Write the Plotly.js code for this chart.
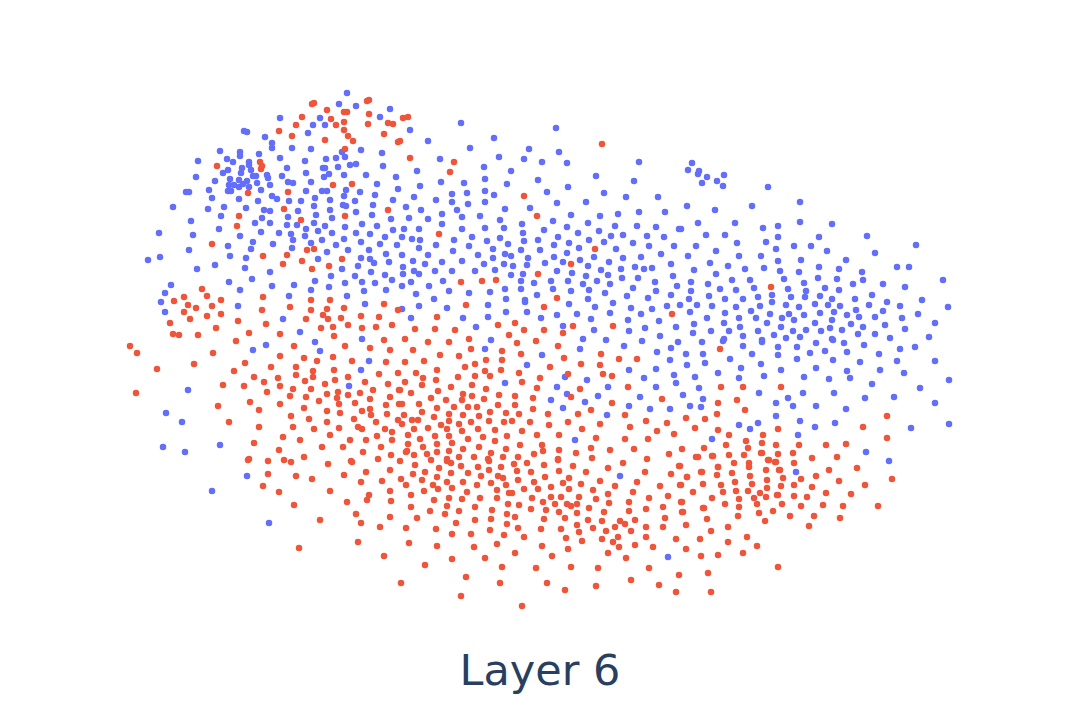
<!DOCTYPE html>
<html>
<head>
<meta charset="utf-8">
<script src="https://cdn.plot.ly/plotly-3.0.1.min.js"></script>
<style>html,body{margin:0;padding:0;background:#fff}</style>
</head>
<body>
<div id="myDiv" style="width:1080px;height:720px"></div>
<script>
var titleText = "Layer 6";
var seriesColors = ["#636EFA", "#EF553B"];

//embedding positions, upper left part first
var bluePoints = [
[347,93],[339,104],[356,106],[390,109],[380,117],[320,118],[313,125],[325,125],[280,118],[244,131],[247,132],[308,133],[265,137],[272,143],[272,148],[292,148],[311,149],[220,151],[240,152],[240,156],[259,154],[342,152],[361,150],[382,153],[280,158],[326,159],[336,158],[345,157],[305,161],[227,159],[233,162],[198,161],[249,162],[249,165],[350,165],[356,164],[383,166],[338,167],[287,168],[242,168],[323,168],[325,168],[228,170],[223,173],[241,173],[251,170],[306,173],[344,175],[366,175],[267,175],[329,174],[324,177],[253,176],[256,176],[282,176],[196,177],[215,181],[230,179],[268,178],[396,177],[239,180],[247,181],[288,182],[293,183],[311,182],[257,183],[270,185],[229,185],[234,185],[239,187],[243,184],[249,187],[377,184],[209,190],[186,192],[189,192],[261,190],[228,191],[231,191],[306,191],[322,191],[327,191],[346,190],[360,192],[398,189],[344,196],[375,195],[212,198],[239,199],[272,196],[277,199],[315,198],[330,200],[289,201],[301,201],[258,201],[355,201],[393,200],[173,207],[343,205],[346,206],[373,205],[314,206],[208,209],[224,207],[246,208],[264,210],[270,211],[298,211],[330,210],[356,212],[221,216],[316,215],[372,215],[288,217],[262,218],[332,218],[191,221],[255,223],[270,223],[391,219],[325,226],[314,223],[287,225],[297,225],[362,224],[345,227],[377,226],[219,229],[306,229],[393,230],[159,233],[193,235],[240,236],[261,232],[279,233],[291,234],[318,231],[332,233],[356,233],[370,234],[305,236],[385,237],[293,240],[322,240],[344,239],[361,242],[253,242],[273,244],[311,243],[228,246],[380,244],[336,245],[397,245],[189,250],[251,249],[292,248],[348,250],[369,250],[327,252],[386,254],[148,260],[160,257],[230,256],[246,258],[318,259],[361,258],[370,259],[215,265],[374,263],[389,262],[197,269],[245,268],[342,269],[358,266],
[410,130],[461,123],[556,128],[428,141],[494,138],[470,148],[529,149],[559,152],[440,159],[499,157],[524,159],[542,162],[567,163],[639,162],[417,171],[484,167],[511,171],[596,176],[441,182],[485,179],[464,183],[538,180],[634,181],[507,184],[420,186],[568,187],[485,191],[547,192],[604,193],[452,194],[467,193],[494,195],[414,197],[436,200],[626,197],[658,197],[452,202],[485,202],[557,203],[586,202],[468,204],[406,207],[530,208],[421,210],[505,209],[457,210],[442,214],[639,212],[665,212],[618,214],[571,215],[600,216],[480,216],[409,218],[428,219],[462,217],[500,220],[553,221],[442,224],[522,224],[588,223],[615,226],[637,226],[656,227],[404,229],[419,229],[485,228],[504,228],[567,227],[462,229],[544,230],[679,229],[599,231],[578,233],[523,233],[623,235],[611,236],[647,236],[402,237],[412,239],[420,240],[472,237],[454,240],[500,238],[558,237],[664,237],[487,241],[524,241],[538,240],[589,240],[604,242],[569,243],[633,243],[508,244],[436,245],[554,245],[469,246],[649,246],[674,246],[419,248],[493,249],[521,250],[540,250],[579,248],[616,249],[453,251],[402,255],[428,255],[478,255],[505,254],[511,256],[567,253],[661,254],[554,257],[594,257],[623,258],[641,257],[493,258],[528,258],[580,260],[413,261],[442,262],[462,261],[563,262],[545,263],[609,262],[425,264],[484,264],[504,264],[513,266],[527,265],[671,264],[403,267],[635,267],[588,266],[652,268],[644,269],[621,269],[495,270],[452,271],[435,271],[414,271],[419,274],[475,271],[557,271],[601,270],[572,273],[403,274],[511,275],[523,274],[608,275],[586,276],[673,276],[622,278],[638,278],[411,282],[443,281],[521,281],[551,281],[568,281],[597,281],[534,283],[655,282],[610,284],[429,286],[583,284],[677,286],[402,286],[505,289],[521,289],[553,289],[633,288],[589,290],[449,291],[469,293],[490,292],[571,291],[656,291],[416,294],[537,295],[605,293],[671,295],[627,296],[648,298],[434,299],[506,299],[525,300],[588,299],
[692,163],[688,170],[699,171],[698,174],[707,177],[724,175],[717,181],[702,183],[723,186],[768,187],[687,206],[715,210],[752,206],[800,202],[698,223],[735,223],[800,222],[832,224],[681,229],[763,228],[778,226],[706,235],[725,235],[778,237],[819,237],[867,236],[737,243],[766,242],[794,246],[811,246],[696,246],[916,245],[776,249],[827,251],[875,253],[716,251],[688,256],[739,256],[761,256],[846,260],[778,261],[801,260],[710,263],[728,266],[819,267],[839,269],[897,267],[909,267],[764,268],[745,269],[862,272],[694,270],[780,271],[799,272],[716,274],[943,280],[837,279],[818,278],[784,279],[732,280],[750,280],[863,280],[804,283],[691,282],[708,284],[853,284],[883,284],[720,289],[754,288],[825,288],[905,287],[788,289],[736,290],[691,291],[806,291],[839,290],[772,295],[872,295],[689,299],[709,296],[725,299],[743,299],[758,297],[791,297],[805,297],[820,296],[855,299],[832,299],[922,300],[772,302],[887,302],[680,305],[697,305],[712,306],[736,307],[760,306],[786,305],[799,307],[815,304],[828,305],[840,306],[869,305],[900,306],[948,307],[856,310],[883,311],[690,312],[725,313],[751,311],[770,314],[789,314],[804,315],[820,313],[834,312],[847,315],[859,317],[875,317],[918,314],[707,318],[739,318],[756,318],[782,318],[794,320],[832,320],[902,318],[724,323],[694,324],[767,323],[815,323],[851,324],[885,325],[935,323],[740,327],[781,327],[830,328],[863,327],[905,329],[693,333],[711,331],[729,331],[758,331],[793,331],[806,330],[821,331],[842,330],[858,334],[875,334],[743,336],[774,335],[800,337],[832,339],[890,338],[929,337],[786,338],[724,339],[762,340],
[171,285],[165,293],[161,302],[165,312],[229,282],[252,279],[270,272],[240,290],[272,286],[294,285],[315,281],[331,276],[355,276],[371,272],[385,275],[392,280],[329,287],[311,290],[345,283],[362,282],[375,283],[364,291],[386,290],[289,296],[347,296],[238,306],[365,304],[283,319],[300,332],[362,339],[315,342],[320,351],[266,345],[253,350],[369,361],[361,370],[349,386],[188,390],[166,413],[182,422],[163,447],[185,452],[220,445],
[402,309],[419,306],[447,308],[411,318],[463,318],[488,305],[525,302],[506,312],[488,317],[527,312],[541,318],[557,315],[569,304],[595,307],[613,303],[631,308],[577,314],[591,319],[610,313],[641,314],[652,309],[667,306],[628,320],[659,321],[476,327],[563,326],[594,330],[629,331],[645,328],[676,327],[660,336],[583,339],[606,340],[642,341],[491,340],[624,346],[678,342],[671,348],[580,349],[657,352],[485,349],[542,355],[670,360],[527,365],[629,370],[656,369],[674,375],[644,378],[676,383],[565,377],[587,380],[505,383],[557,387],[608,387],[656,387],[567,394],[598,396],[551,400],[640,397],[585,402],[629,406],[650,409],[670,409],[563,408],[607,415],[575,440],
[702,342],[723,341],[743,346],[762,342],[778,347],[797,347],[816,343],[833,340],[844,343],[864,345],[686,354],[703,354],[752,354],[778,355],[810,353],[825,351],[847,352],[879,354],[900,349],[915,347],[730,359],[797,359],[833,360],[860,362],[897,361],[935,361],[687,365],[705,363],[761,364],[741,368],[781,370],[816,368],[847,371],[880,370],[718,373],[695,377],[739,378],[764,376],[804,377],[829,379],[850,378],[904,373],[949,380],[872,384],[699,388],[920,388],[683,395],[759,393],[803,393],[834,393],[788,398],[865,398],[894,397],[703,399],[776,403],[935,403],[690,406],[701,407],[793,406],[816,406],[846,409],[776,416],[800,421],[835,423],[949,424],[739,425],[758,423],[815,427],[911,428],[750,429],[798,435],[712,439],[866,452],[889,461],[796,472],
[247,476],[269,523],[620,476],[668,557],[212,491]
];
var redPoints = [
[312,104],[314,103],[367,101],[369,100],[327,110],[344,112],[347,112],[302,117],[369,114],[331,119],[296,125],[336,125],[344,122],[368,124],[388,123],[393,124],[344,130],[279,131],[292,136],[384,134],[348,136],[353,141],[325,140],[398,142],[345,149],[260,162],[262,166],[261,169],[217,166],[333,185],[352,184],[248,193],[288,192],[284,209],[388,210],[239,216],[345,216],[301,220],[237,226],[212,244],[263,256],[287,255],[307,250],[314,249],[342,259],[302,261],[283,264],[329,266],[312,269],
[403,118],[408,117],[400,141],[410,158],[454,162],[450,172],[524,196],[537,216],[439,234],[595,249],[571,264],[538,274],[461,282],[482,281],[496,280],[602,144],[557,298],[771,287],
[202,289],[207,296],[184,297],[174,301],[221,300],[188,305],[196,308],[212,306],[184,312],[221,314],[207,316],[190,319],[170,323],[238,321],[173,334],[179,335],[198,335],[216,328],[249,333],[280,334],[236,341],[130,346],[137,353],[213,353],[294,346],[280,356],[263,297],[262,310],[266,324],[290,307],[311,300],[330,300],[311,310],[327,309],[344,308],[384,304],[306,319],[323,315],[328,319],[341,318],[361,316],[379,317],[398,310],[321,328],[333,327],[348,325],[362,328],[376,327],[392,325],[334,336],[384,340],[345,346],[370,348],[390,350],[304,358],[317,361],[333,357],[352,361],[386,362],[245,363],[271,367],[296,367],[313,371],[334,370],[194,364],[157,369],[234,371],[296,375],[313,377],[348,377],[379,374],[398,373],[254,377],[278,378],[305,381],[335,380],[365,382],[264,382],[223,385],[244,386],[280,386],[325,384],[388,384],[293,389],[311,389],[338,392],[373,390],[399,390],[136,393],[267,392],[327,394],[348,395],[360,393],[390,397],[290,396],[306,397],[337,398],[370,399],[319,401],[250,402],[355,403],[339,404],[280,404],[218,406],[386,405],[304,408],[370,409],[259,410],[327,411],[340,413],[362,411],[399,404],[371,415],[387,414],[291,416],[309,419],[354,419],[398,420],[229,422],[327,422],[376,422],[293,427],[259,427],[314,429],[339,428],[358,427],[362,429],[392,432],[385,429],[330,435],[377,436],[283,437],[300,440],[350,440],[366,440],[392,440],[254,443],[322,447],[343,447],[381,447],[279,450],[363,452],[391,455],[304,457],[249,459],[268,461],[284,460],[378,459],[351,461],
[466,305],[544,307],[437,317],[515,323],[498,325],[573,326],[613,326],[672,314],[415,329],[435,329],[455,330],[524,330],[544,330],[563,333],[509,335],[405,339],[469,339],[428,342],[449,342],[517,343],[536,341],[558,346],[413,350],[471,349],[502,351],[521,354],[601,354],[440,355],[459,356],[564,358],[619,359],[637,359],[486,360],[502,360],[424,361],[405,362],[475,364],[581,364],[600,365],[465,367],[550,367],[437,370],[485,371],[501,370],[416,373],[519,373],[568,374],[603,374],[612,376],[490,376],[475,376],[458,377],[423,378],[540,378],[405,382],[436,380],[522,382],[422,385],[472,385],[451,387],[537,388],[486,389],[580,389],[628,387],[400,390],[438,391],[411,393],[463,394],[499,395],[472,396],[515,396],[571,397],[431,398],[533,398],[462,400],[484,399],[446,400],[662,399],[612,403],[402,404],[419,404],[498,405],[515,405],[437,408],[454,407],[468,407],[477,407],[533,409],[591,410],[490,412],[506,413],[422,412],[548,414],[578,414],[625,415],[404,415],[449,414],[463,415],[479,416],[519,414],[434,417],[412,420],[418,420],[449,421],[471,422],[489,421],[504,422],[512,421],[530,422],[568,422],[646,421],[600,424],[667,423],[402,424],[441,425],[459,424],[549,425],[414,429],[428,428],[447,429],[478,429],[495,430],[462,431],[522,431],[582,429],[630,427],[657,431],[537,435],[559,435],[408,435],[435,436],[449,436],[483,437],[507,436],[596,438],[420,439],[468,439],[625,439],[648,439],[674,434],[495,441],[452,443],[437,444],[408,444],[520,445],[542,445],[591,448],[423,447],[479,447],[463,449],[407,451],[506,449],[559,450],[610,450],[634,449],[449,451],[437,452],[543,451],[491,453],[534,454],[576,453],[669,454],[427,454],[414,455],[518,457],[503,457],[474,457],[459,457],[592,458],[647,459],[558,459],[431,460],[447,459],[488,459],
[720,349],[721,387],[743,387],[781,387],[718,403],[737,400],[745,410],[717,414],[686,418],[705,419],[887,416],[695,428],[718,430],[863,427],[778,429],[729,435],[763,435],[887,438],[746,441],[726,445],[762,443],[776,445],[799,445],[826,445],[846,444],[682,449],[704,448],[748,448],[762,453],[793,453],[778,454],[696,457],[712,456],[729,455],[744,455],[812,458],[837,457],[768,460],[775,462],[794,463],[749,463],[734,463],[749,467],[718,467],[680,466],[857,468],[766,470],[780,470],[829,470],[702,472],[732,473],[816,476],[717,475],[750,476],[801,479],[783,478],[687,477],[839,481],[892,479],[767,480],[735,482],[865,485],[752,484],[703,484],[721,485],[781,486],[794,485],[812,487],[681,485],[767,488],[736,491],[748,491],[693,492],[723,492],[826,493],[851,494],[778,495],[760,493],[794,496],[754,498],[807,497],[712,498],[739,499],[766,497],[682,502],[782,504],[725,504],[757,504],[823,505],[843,506],[878,506],[801,506],[703,508],[739,507],[683,512],[773,511],[759,513],[738,516],[790,516],[814,516],[707,519],[840,518],[765,521],[686,525],[728,527],[809,526],
[248,460],[291,462],[328,464],[352,462],[400,461],[406,452],[415,465],[447,461],[451,463],[489,461],[461,466],[478,467],[501,467],[439,468],[268,474],[296,476],[344,475],[366,472],[390,470],[413,474],[425,472],[451,473],[468,473],[481,476],[489,470],[498,476],[503,478],[312,479],[382,481],[401,479],[422,480],[437,477],[447,482],[463,482],[491,483],[506,485],[263,486],[361,482],[406,485],[433,485],[438,489],[452,488],[477,485],[279,492],[330,491],[390,491],[424,491],[467,492],[497,490],[411,495],[369,495],[449,498],[480,498],[497,498],[509,493],[462,499],[367,500],[434,500],[391,501],[294,505],[347,502],[411,507],[447,506],[475,507],[508,504],[430,511],[459,511],[492,510],[356,514],[445,514],[507,514],[320,520],[361,523],[390,517],[417,518],[475,520],[491,519],[456,523],[507,524],[380,527],[406,528],[436,529],[490,530],[471,534],[452,534],[504,535],[358,542],[409,543],[437,546],[497,544],[299,548],[474,547],[384,556],[452,559],[485,558],[425,565],[502,567],[466,577],[401,583],[500,583],[461,596],
[698,457],[713,456],[761,453],[769,460],[776,462],[623,463],[558,460],[514,464],[527,463],[544,465],[573,466],[608,468],[679,466],[718,467],[517,471],[531,472],[559,471],[586,472],[645,472],[671,474],[701,472],[779,470],[545,477],[569,478],[687,477],[518,480],[534,482],[563,483],[600,481],[637,482],[581,484],[615,486],[660,486],[680,485],[538,489],[551,487],[569,489],[593,490],[512,493],[524,489],[633,492],[608,494],[777,495],[551,497],[579,497],[532,498],[561,497],[596,499],[649,498],[668,496],[543,502],[567,504],[577,504],[519,505],[555,504],[571,506],[609,503],[629,502],[681,502],[531,509],[546,510],[589,508],[663,507],[704,508],[629,511],[646,509],[559,512],[577,513],[604,512],[682,512],[515,517],[565,518],[665,518],[544,519],[588,520],[602,521],[635,520],[620,521],[577,525],[625,524],[561,529],[593,528],[615,527],[646,527],[663,527],[518,528],[541,529],[579,532],[606,531],[631,531],[711,531],[524,537],[566,538],[618,537],[602,539],[646,537],[676,539],[700,539],[747,537],[582,541],[613,542],[728,542],[542,546],[619,547],[635,545],[653,547],[757,546],[568,549],[686,549],[515,553],[608,553],[743,553],[552,556],[626,558],[701,556],[718,555],[536,568],[571,567],[598,568],[649,568],[778,567],[679,575],[708,573],[631,580],[547,583],[596,586],[659,585],[565,590],[676,592],[711,592],[522,606]
];

function col(pts, i) {
  return pts.map(function (p) { return p[i]; });
}

var data = [
  {x: col(bluePoints, 0), y: col(bluePoints, 1), mode: 'markers', type: 'scatter',
   marker: {color: seriesColors[0], size: 6.5}},
  {x: col(redPoints, 0), y: col(redPoints, 1), mode: 'markers', type: 'scatter',
   marker: {color: seriesColors[1], size: 6.5}}
];

var layout = {
  width: 1080,
  height: 720,
  showlegend: false,
  paper_bgcolor: '#fff',
  plot_bgcolor: '#fff',
  margin: {l: 0, r: 0, t: 0, b: 0},
  title: {text: titleText, x: 0.5, xanchor: 'center', y: 0.07, yanchor: 'middle',
          font: {family: 'DejaVu Sans', size: 43, color: '#2a3f5f'}},
  xaxis: {range: [0, 1080], visible: false},
  yaxis: {range: [720, 0], visible: false}
};

Plotly.newPlot('myDiv', data, layout, {displayModeBar: false});
</script>
</body>
</html>
